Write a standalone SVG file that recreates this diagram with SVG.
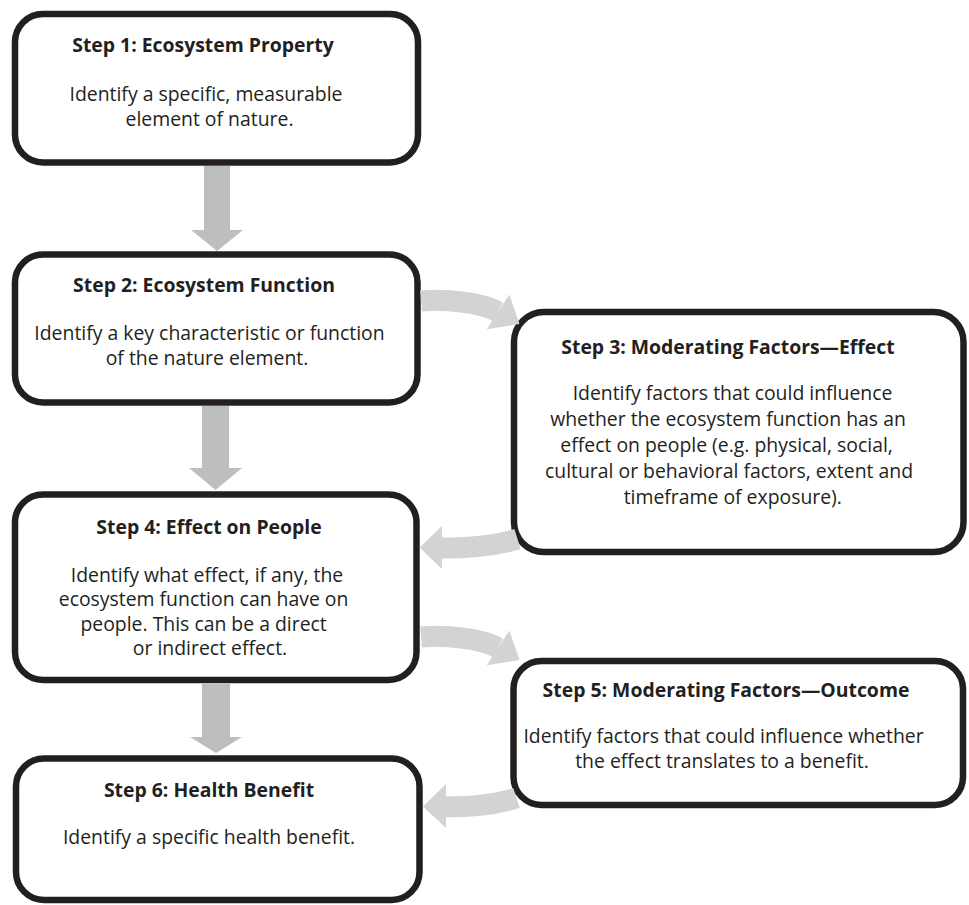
<svg xmlns="http://www.w3.org/2000/svg" width="969" height="905" viewBox="0 0 969 905">
<style>
.box{fill:#fff;stroke:#231f20;stroke-width:6.5}
.t{font-family:"Open Sans","Noto Sans","Liberation Sans",sans-serif;font-size:19.4px;fill:#231f20;text-anchor:middle}
.b{font-weight:bold}
.va{fill:#bcbec0}
.ca{fill:none;stroke:#d1d3d4;stroke-width:21}
.ch{fill:#d1d3d4}
</style>
<rect width="969" height="905" fill="#fff"/>
<g id="step1">
<rect class="box" x="15" y="14" width="403" height="148.5" rx="28"/>
<text class="t b" x="203" y="52">Step 1: Ecosystem Property</text>
<text class="t" x="206" y="101">Identify a specific, measurable</text>
<text class="t" x="209.5" y="126">element of nature.</text>
</g>
<g id="step2">
<rect class="box" x="15" y="254.5" width="402.5" height="148" rx="28"/>
<text class="t b" x="204" y="292">Step 2: Ecosystem Function</text>
<text class="t" x="209.5" y="340">Identify a key characteristic or function</text>
<text class="t" x="207" y="365">of the nature element.</text>
</g>
<g id="step3">
<rect class="box" x="514" y="312" width="449.5" height="240" rx="30"/>
<text class="t b" x="728" y="353.5">Step 3: Moderating Factors—Effect</text>
<text class="t" x="732.5" y="400">Identify factors that could influence</text>
<text class="t" x="728" y="426">whether the ecosystem function has an</text>
<text class="t" x="726.6" y="452">effect on people (e.g. physical, social,</text>
<text class="t" x="729" y="478">cultural or behavioral factors, extent and</text>
<text class="t" x="732.8" y="504">timeframe of exposure).</text>
</g>
<g id="step4">
<rect class="box" x="15" y="494.5" width="401.5" height="185.5" rx="28"/>
<text class="t b" x="209" y="533.5">Step 4: Effect on People</text>
<text class="t" x="207" y="581.5">Identify what effect, if any, the</text>
<text class="t" x="203.6" y="606">ecosystem function can have on</text>
<text class="t" x="203.6" y="630.5">people. This can be a direct</text>
<text class="t" x="210" y="655">or indirect effect.</text>
</g>
<g id="step5">
<rect class="box" x="513.5" y="661" width="449.5" height="144" rx="28"/>
<text class="t b" x="726" y="697">Step 5: Moderating Factors—Outcome</text>
<text class="t" x="723.5" y="743">Identify factors that could influence whether</text>
<text class="t" x="722" y="768">the effect translates to a benefit.</text>
</g>
<g id="step6">
<rect class="box" x="16" y="758.5" width="403.5" height="141.5" rx="28"/>
<text class="t b" x="209" y="797">Step 6: Health Benefit</text>
<text class="t" x="209" y="843.5">Identify a specific health benefit.</text>
</g>
<g id="connectors">
<polygon class="va" points="204,166 230,166 230,230 243,230 217,251 191,230 204,230"/>
<polygon class="va" points="202,406 229,406 229,468 242,468 215.5,490 189,468 202,468"/>
<polygon class="va" points="202,683.5 230,683.5 230,737 242,737 216,753 190,737 202,737"/>
<path class="ca" d="M421,301 C445,299 480,302 498,311.7"/>
<polygon class="ch" points="509.3,294.5 519.5,324 486.8,329.3"/>
<path class="ca" d="M517.5,539 C495,546 470,548 442,548"/>
<polygon class="ch" points="442,526 442,569 419.5,547.5"/>
<path class="ca" d="M421,637 C445,635 480,638 498,647.7"/>
<polygon class="ch" points="509.3,630.5 519.5,660 486.8,665.3"/>
<path class="ca" d="M516.5,798 C495,805 473,807 446,807"/>
<polygon class="ch" points="446,784 446,828 423,806.5"/>
</g>
</svg>
